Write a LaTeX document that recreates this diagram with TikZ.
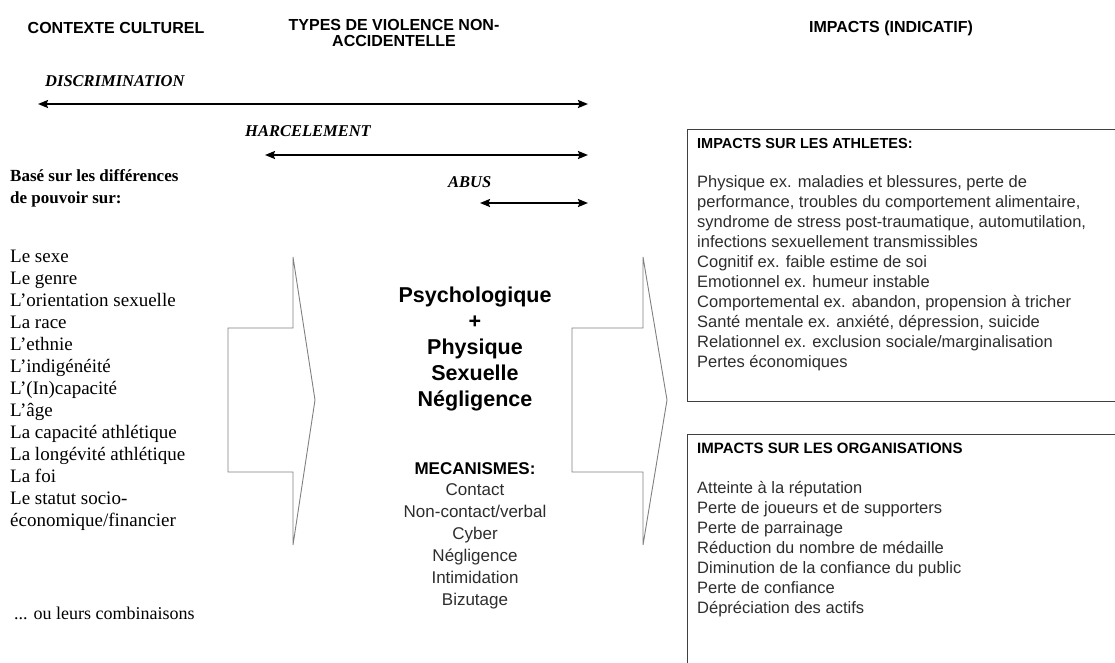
\documentclass[tikz,border=0pt]{standalone}
\usepackage{fontspec}
\setmainfont{Liberation Serif}
\setsansfont{Liberation Sans}
\usetikzlibrary{arrows.meta,positioning}
\definecolor{grisfleche}{RGB}{128,128,128}
\definecolor{gristexte}{RGB}{45,45,45}
\tikzset{
	entete/.style={font=\sffamily\bfseries\fontsize{16}{16}\selectfont,align=center,inner sep=0pt},
	categorie/.style={font=\bfseries\itshape\fontsize{16.5}{18}\selectfont,anchor=base west,inner sep=0pt},
	portee/.style={<->,line width=1.8pt},
	liste/.style={font=\fontsize{19}{22}\selectfont,align=left,anchor=north west,inner sep=0pt},
	contour/.style={grisfleche,line width=0.9pt,line join=miter},
	cadre/.style={black!75,line width=1pt},
	impact/.style={font=\sffamily\fontsize{16.5}{20}\selectfont,text=gristexte,align=left,anchor=north west,inner sep=0pt}
}
\begin{document}
\begin{tikzpicture}[x=1pt,y=-1pt,>={Stealth[length=10pt,width=8pt,inset=1.5pt]}]
	\useasboundingbox (0,0) rectangle (1115,662);
	%Titres des colonnes
	\node[entete] (contexte) at (116,28) {CONTEXTE CULTUREL};
	\node[entete] (types) at (394,33) {TYPES DE VIOLENCE NON-\\ACCIDENTELLE};
	\node[entete] (impacts) at (891,28) {IMPACTS (INDICATIF)};
	%Portees des types de violence
	\node[categorie] (discr) at (45,86) {DISCRIMINATION};
	\node[categorie] (harc) at (245,136) {HARCELEMENT};
	\node[categorie] (abus) at (448,187) {ABUS};
	\coordinate (discG) at (38,104);
	\coordinate (discD) at (588,104);
	\coordinate (harcG) at (265,155);
	\coordinate (harcD) at (588,155);
	\coordinate (abusG) at (480,203);
	\coordinate (abusD) at (588,203);
	\draw[portee] (discG) -- (discD);
	\draw[portee] (harcG) -- (harcD);
	\draw[portee] (abusG) -- (abusD);
	%Colonne de gauche
	\node[liste,font=\bfseries\fontsize{17}{22}\selectfont] (base) at (10,169) {Basé sur les différences\\de pouvoir sur:};
	\node[liste] (criteres) at (10,250) {Le sexe\\Le genre\\L’orientation sexuelle\\La race\\L’ethnie\\L’indigénéité\\L’(In)capacité\\L’âge\\La capacité athlétique\\La longévité athlétique\\La foi\\Le statut socio-\\économique/financier};
	\node[liste,font=\fontsize{18}{22}\selectfont] (combi) at (14,607) {... ou leurs combinaisons};
	%Grandes fleches
	\draw[contour] (228,328) -- (293,328) -- (293,257) -- (315,400) -- (293,545) -- (293,472) -- (228,472) -- cycle;
	\draw[contour] (572,328) -- (643,328) -- (643,257) -- (667,400) -- (643,545) -- (643,472) -- (572,472) -- cycle;
	%Colonne du milieu
	\node[font=\sffamily\bfseries\fontsize{21.5}{26}\selectfont,align=center,inner sep=0pt] (formes) at (475,349) {Psychologique\\+\\Physique\\Sexuelle\\Négligence};
	\node[font=\sffamily\bfseries\fontsize{17}{22}\selectfont,inner sep=0pt] (meca) at (475,469) {MECANISMES:};
	\node[font=\sffamily\fontsize{17}{22}\selectfont,text=gristexte,align=center,anchor=north,inner sep=0pt] (modes) at (475,483) {Contact\\Non-contact/verbal\\Cyber\\Négligence\\Intimidation\\Bizutage};
	%Cadres des impacts
	\draw[cadre] (1125,129) -- (687,129) -- (687,401) -- (1125,401);
	\draw[cadre] (1125,434) -- (687,434) -- (687,670);
	\node[impact,font=\sffamily\bfseries\fontsize{14.5}{18}\selectfont,text=black] (titreAth) at (697,138) {IMPACTS SUR LES ATHLETES:};
	\node[impact] (ath) at (697,175) {Physique ex. maladies et blessures, perte de\\performance, troubles du comportement alimentaire,\\syndrome de stress post-traumatique, automutilation,\\infections sexuellement transmissibles\\Cognitif ex. faible estime de soi\\Emotionnel ex. humeur instable\\Comportemental ex. abandon, propension à tricher\\Santé mentale ex. anxiété, dépression, suicide\\Relationnel ex. exclusion sociale/marginalisation\\Pertes économiques};
	\node[impact,font=\sffamily\bfseries\fontsize{15}{18}\selectfont,text=black] (titreOrg) at (697,443) {IMPACTS SUR LES ORGANISATIONS};
	\node[impact] (org) at (697,481) {Atteinte à la réputation\\Perte de joueurs et de supporters\\Perte de parrainage\\Réduction du nombre de médaille\\Diminution de la confiance du public\\Perte de confiance\\Dépréciation des actifs};
\end{tikzpicture}
\end{document}
